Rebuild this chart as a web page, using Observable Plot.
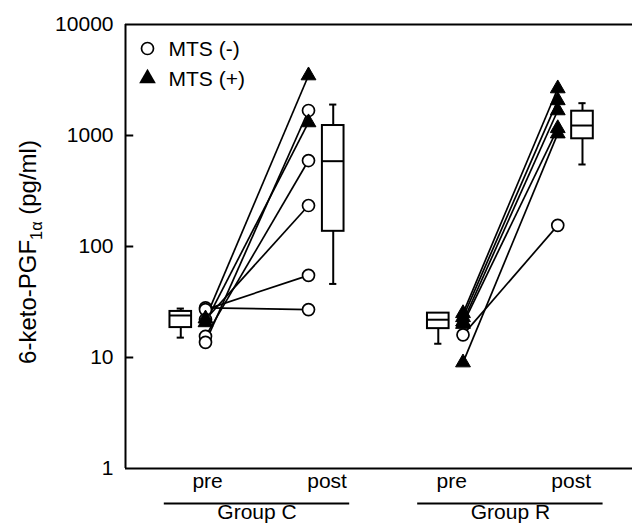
<!DOCTYPE html>
<html><head><meta charset="utf-8">
<script src="https://cdn.jsdelivr.net/npm/d3@7"></script>
<script src="https://cdn.jsdelivr.net/npm/@observablehq/plot@0.6"></script>
<style>body{margin:0;background:#fff} svg{font-family:"Liberation Sans",Arial,sans-serif}</style>
</head><body><div id="chart"></div>
<script>
// ---- data ----
const groups = ["Group C", "Group R"];
const timeLabels = ["pre", "post", "pre", "post"];
const slotX = [1, 2, 3.5, 4.42];          // pre/post slots along x
const labelX = [1.02, 2.18, 3.39, 4.55];  // where the pre/post words sit
const yTicks = [1, 10, 100, 1000, 10000];
const legendLabels = ["MTS (-)", "MTS (+)"];

// Group C subjects (pre -> post), MTS status
const cMTS  = ["-", "-", "-", "-", "-", "+", "+"];
const cPre  = [28, 27, 22, 15.5, 13.7, 22.4, 20.7];
const cPost = [27, 55, 234, 595, 1680, 3470, 1310];
// Group R subjects
const rMTS  = ["+", "+", "+", "+", "+", "-"];
const rPre  = [25, 23, 21, 20, 9, 16];
const rPost = [2650, 2070, 1680, 1160, 1040, 155];

// box stats: [low whisker, q1, median, q3, high whisker]
const boxCpre  = [15.1, 18.6, 23.9, 26, 27.6];
const boxCpost = [46, 137, 587, 1230, 1900];
const boxRpre  = [13.3, 18.2, 21.9, 25.1, 25.1];
const boxRpost = [548, 934, 1230, 1655, 1955];
const boxSide  = [-1, 1, -1, 1];

// ---- tables ----
const xDomain = [0.2233, 5.1456];
const subjects = [
  ...cPre.map((v, i) => ({x1: slotX[0], x2: slotX[1], y1: v, y2: cPost[i], mts: cMTS[i]})),
  ...rPre.map((v, i) => ({x1: slotX[2], x2: slotX[3], y1: v, y2: rPost[i], mts: rMTS[i]}))
];
const points = subjects.flatMap(s => [{x: s.x1, y: s.y1, mts: s.mts}, {x: s.x2, y: s.y2, mts: s.mts}]);
const boxes = [boxCpre, boxCpost, boxRpre, boxRpost].map((b, i) => ({
  x: slotX[i] + boxSide[i] * 0.24, lo: b[0], q1: b[1], med: b[2], q3: b[3], hi: b[4]
}));
const bw = 0.105, cw = 0.035;
const groupSpans = groups.map((g, i) => ({
  g, x1: (slotX[2 * i] + slotX[2 * i + 1]) / 2 - 0.9, x2: (slotX[2 * i] + slotX[2 * i + 1]) / 2 + 0.9,
  xm: (slotX[2 * i] + slotX[2 * i + 1]) / 2
}));

const fs = 21;
const svg = Plot.plot({
  width: 632, height: 531,
  marginLeft: 125, marginRight: 0, marginTop: 24, marginBottom: 63,
  style: {fontFamily: "Liberation Sans, Arial, sans-serif", fontSize: fs + "px", background: "#fff", overflow: "visible"},
  x: {domain: xDomain, axis: null},
  y: {type: "log", domain: [1, 10000], axis: null},
  marks: [
    // frame: left, bottom, top
    Plot.ruleX([xDomain[0]], {stroke: "black", strokeWidth: 2}),
    Plot.ruleY([1, 10000], {stroke: "black", strokeWidth: 2}),
    // inward ticks
    Plot.ruleY(yTicks.slice(1, 4), {x1: xDomain[0], x2: xDomain[0] + 0.08, stroke: "black", strokeWidth: 2}),
    Plot.text(yTicks, {x: xDomain[0], y: d => d, text: d => d3.format("d")(d), textAnchor: "end", dx: -12, fontSize: fs, fill: "black"}),
    // subject lines
    Plot.link(subjects, {x1: "x1", y1: "y1", x2: "x2", y2: "y2", stroke: "black", strokeWidth: 1.7}),
    // points
    Plot.dot(points.filter(d => d.mts === "-"), {x: "x", y: "y", r: 6, symbol: "circle", fill: "white", stroke: "black", strokeWidth: 1.7}),
    Plot.dot(points.filter(d => d.mts === "+"), {x: "x", y: "y", r: 5.5, symbol: "triangle", fill: "black", stroke: "black", strokeWidth: 1}),
    // boxes
    Plot.ruleX(boxes, {x: "x", y1: "lo", y2: "q1", stroke: "black", strokeWidth: 2}),
    Plot.ruleX(boxes, {x: "x", y1: "q3", y2: "hi", stroke: "black", strokeWidth: 2}),
    Plot.ruleY(boxes, {y: "lo", x1: d => d.x - cw, x2: d => d.x + cw, stroke: "black", strokeWidth: 2}),
    Plot.ruleY(boxes, {y: "hi", x1: d => d.x - cw, x2: d => d.x + cw, stroke: "black", strokeWidth: 2}),
    Plot.rect(boxes, {x1: d => d.x - bw, x2: d => d.x + bw, y1: "q1", y2: "q3", fill: "white", stroke: "black", strokeWidth: 2}),
    Plot.ruleY(boxes, {y: "med", x1: d => d.x - bw, x2: d => d.x + bw, stroke: "black", strokeWidth: 2}),
    // legend
    Plot.dot([legendLabels[0]], {frameAnchor: "top-left", dx: 22, dy: 24, r: 6, symbol: "circle", fill: "white", stroke: "black", strokeWidth: 1.7}),
    Plot.dot([legendLabels[1]], {frameAnchor: "top-left", dx: 22, dy: 54, r: 6.2, symbol: "triangle", fill: "black"}),
    Plot.text(legendLabels, {frameAnchor: "top-left", text: d => d, textAnchor: "start", fontSize: fs, fill: "black"}),
    // x labels
    Plot.text(timeLabels, {x: (d, i) => labelX[i], text: d => d, frameAnchor: "bottom", dy: 19, fontSize: fs, fill: "black"}),
    Plot.ruleY(groupSpans, {y: () => 1, x1: "x1", x2: "x2", dy: 35, stroke: "black", strokeWidth: 2}),
    Plot.text(groupSpans, {x: "xm", text: "g", frameAnchor: "bottom", dy: 50, fontSize: fs, fill: "black"})
  ]
});
document.getElementById("chart").appendChild(svg);

// legend text rows (positioned after render)
const lt = d3.select(svg).selectAll("text").filter(function () { return legendLabels.includes(this.textContent); });
lt.each(function () {
  const i = legendLabels.indexOf(this.textContent);
  d3.select(this).attr("transform", `translate(168,${48 + 30 * i})`).attr("dy", "0.35em").attr("x", null).attr("y", null);
});

// y-axis title with subscript
const t = d3.select(svg).append("text")
  .attr("transform", "translate(28,252) rotate(-90)")
  .attr("text-anchor", "middle").attr("dy", "0.35em")
  .attr("font-size", 24).attr("fill", "black");
t.append("tspan").text("6-keto-PGF");
t.append("tspan").attr("font-size", 24 * 0.68).attr("dy", 6).text("1α");
t.append("tspan").attr("dy", -6).text(" (pg/ml)");
</script></body></html>
